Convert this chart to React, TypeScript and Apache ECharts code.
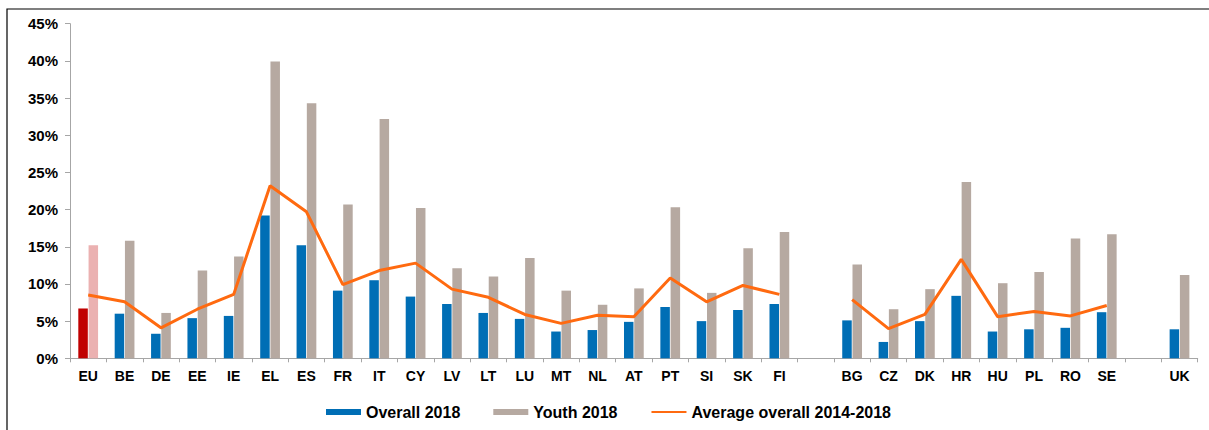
import React, { useEffect, useRef } from "react";
import * as echarts from "echarts";

const categories = ["EU","BE","DE","EE","IE","EL","ES","FR","IT","CY","LV","LT","LU","MT","NL","AT","PT","SI","SK","FI","","BG","CZ","DK","HR","HU","PL","RO","SE","","UK"];
const overall2018 = [6.7,6.0,3.3,5.4,5.7,19.2,15.2,9.1,10.5,8.3,7.3,6.1,5.3,3.6,3.8,4.9,6.9,5.0,6.5,7.3,null,5.1,2.2,5.0,8.4,3.6,3.9,4.1,6.2,null,3.9];
const youth2018 = [15.2,15.8,6.1,11.8,13.7,39.9,34.3,20.7,32.2,20.2,12.1,11.0,13.5,9.1,7.2,9.4,20.3,8.8,14.8,17.0,null,12.6,6.6,9.3,23.7,10.1,11.6,16.1,16.7,null,11.2];
const averageOverall = [8.5,7.6,4.1,6.6,8.6,23.2,19.7,9.9,11.8,12.8,9.3,8.2,5.9,4.7,5.8,5.6,10.8,7.6,9.8,8.6,null,7.9,4.0,5.9,13.3,5.6,6.3,5.7,7.1,null,null];

const BLUE = "#006EB5";
const GREY = "#B6A9A1";
const EU_RED = "#C00000";
const EU_PINK = "#EBB1B1";
const ORANGE = "#FF6A10";
const AXIS = "#A6A6A6";
const FONT = "'Liberation Sans', Arial, sans-serif";

export default function App() {
  const ref = useRef<HTMLDivElement>(null);
  useEffect(() => {
    if (!ref.current) return;
    const chart = echarts.init(ref.current, null, { renderer: "svg" });
    const overallData = overall2018.map((v, i) =>
      i === 0 ? { value: v, itemStyle: { color: EU_RED } } : v
    );
    const youthData = youth2018.map((v, i) =>
      i === 0 ? { value: v, itemStyle: { color: EU_PINK } } : v
    );
    chart.setOption({
      animation: false,
      backgroundColor: "#ffffff",
      textStyle: { fontFamily: FONT },
      grid: { left: 70, right: 11.3, top: 23.7, bottom: 71.7 },
      graphic: [
        {
          type: "rect",
          shape: { x: 7, y: 9, width: 1400, height: 600 },
          style: { fill: "none", stroke: "#000", lineWidth: 1.2 },
          silent: true,
        },
      ],
      legend: {
        left: 321,
        top: 399,
        itemWidth: 35,
        itemHeight: 6,
        itemGap: 33,
        textStyle: { fontFamily: FONT, fontSize: 16, fontWeight: "bold", color: "#000" },
        data: [
          { name: "Overall 2018", icon: "rect" },
          { name: "Youth 2018", icon: "rect" },
          { name: "Average overall 2014-2018", itemStyle: { opacity: 0 } },
        ],
      },
      xAxis: {
        type: "category",
        data: categories,
        axisLine: { lineStyle: { color: AXIS, width: 1 } },
        axisTick: { show: true, interval: 0, length: 4, lineStyle: { color: AXIS } },
        axisLabel: {
          interval: 0,
          margin: 11,
          fontFamily: FONT,
          fontSize: 14,
          fontWeight: "bold",
          color: "#000",
        },
      },
      yAxis: {
        type: "value",
        min: 0,
        max: 45,
        interval: 5,
        splitLine: { show: false },
        axisLine: { show: true, lineStyle: { color: AXIS, width: 1 } },
        axisTick: { show: true, length: 5, lineStyle: { color: AXIS } },
        axisLabel: {
          formatter: "{value}%",
          margin: 12,
          fontFamily: FONT,
          fontSize: 15,
          fontWeight: "bold",
          color: "#000",
        },
      },
      series: [
        {
          name: "Overall 2018",
          type: "bar",
          data: overallData,
          barWidth: 9.5,
          barGap: "8%",
          itemStyle: { color: BLUE },
        },
        {
          name: "Youth 2018",
          type: "bar",
          data: youthData,
          barWidth: 9.5,
          barGap: "8%",
          itemStyle: { color: GREY },
        },
        {
          name: "Average overall 2014-2018",
          type: "line",
          data: averageOverall,
          symbol: "none",
          connectNulls: false,
          lineStyle: { color: ORANGE, width: 3 },
          itemStyle: { color: ORANGE },
          z: 5,
        },
      ],
    });
    return () => chart.dispose();
  }, []);
  return (
    <div
      ref={ref}
      style={{ position: "fixed", left: 0, top: 0, width: 1209, height: 430 }}
    />
  );
}
